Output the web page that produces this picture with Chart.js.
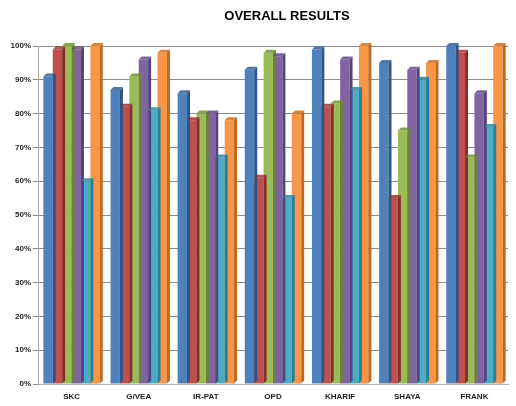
<!DOCTYPE html>
<html>
<head>
<meta charset="utf-8">
<script src="https://cdn.jsdelivr.net/npm/chart.js@4"></script>
<style>
  html, body { margin: 0; padding: 0; background: #fff; }
  #wrap { width: 516px; height: 406px; }
</style>
</head>
<body>
<div id="wrap"><canvas id="resultsChart"></canvas></div>
<script>
// Overall results - grouped columns, Excel style
const categories = ['SKC', 'G/VEA', 'IR-PAT', 'OPD', 'KHARIF', 'SHAYA', 'FRANK'];
const series1 = [91, 87, 86, 93, 99, 95, 100];
const series2 = [99, 82, 78, 61, 82, 55, 98];
const series3 = [100, 91, 80, 98, 83, 75, 67];
const series4 = [99, 96, 80, 97, 96, 93, 86];
const series5 = [60, 81, 67, 55, 87, 90, 76];
const series6 = [100, 98, 78, 80, 100, 95, 100];
const yTicks = [0, 10, 20, 30, 40, 50, 60, 70, 80, 90, 100];

const colors = ['#4F81BD', '#C0504D', '#9BBB59', '#8064A2', '#4BACC6', '#F79646'];
const sideColors = ['#2E5584', '#8A2E2C', '#6A8634', '#57437A', '#2A7F96', '#C0691E'];
const allSeries = [series1, series2, series3, series4, series5, series6];

// fake 3D: side and top faces for every bar
const bar3d = {
    id: 'bar3d',
    afterDatasetsDraw(chart) {
        const ctx = chart.ctx;
        const d = 3;
        chart.data.datasets.forEach((ds, i) => {
            chart.getDatasetMeta(i).data.forEach(bar => {
                const left = bar.x - bar.width / 2;
                const right = bar.x + bar.width / 2;
                ctx.save();
                ctx.fillStyle = sideColors[i];
                ctx.beginPath();
                ctx.moveTo(right, bar.y);
                ctx.lineTo(right + d, bar.y - d);
                ctx.lineTo(right + d, bar.base - d);
                ctx.lineTo(right, bar.base);
                ctx.closePath();
                ctx.fill();
                ctx.globalAlpha = 0.8;
                ctx.beginPath();
                ctx.moveTo(left, bar.y);
                ctx.lineTo(left + d, bar.y - d);
                ctx.lineTo(right + d, bar.y - d);
                ctx.lineTo(right, bar.y);
                ctx.closePath();
                ctx.fill();
                ctx.restore();
            });
        });
    }
};

const titlePlugin = {
    id: 'offsetTitle',
    afterDraw(chart) {
        const ctx = chart.ctx;
        ctx.save();
        ctx.font = 'bold 13px "Liberation Sans Narrow", "Liberation Sans", Arial, sans-serif';
        ctx.fillStyle = '#000';
        ctx.textAlign = 'center';
        ctx.textBaseline = 'middle';
        ctx.fillText('OVERALL RESULTS', 287, 16);
        ctx.restore();
    }
};

new Chart(document.getElementById('resultsChart'), {
    type: 'bar',
    data: {
        labels: categories,
        datasets: allSeries.map((values, i) => ({
            label: 'Series ' + (i + 1),
            data: values,
            backgroundColor: colors[i],
            borderWidth: 0,
            categoryPercentage: 0.84,
            barPercentage: 1.0
        }))
    },
    options: {
        responsive: true,
        maintainAspectRatio: false,
        animation: false,
        layout: {
            padding: { top: 46, right: 8, bottom: 0, left: 2 }
        },
        plugins: {
            legend: { display: false },
            title: { display: false },
            tooltip: { enabled: false }
        },
        scales: {
            y: {
                min: 0,
                max: 100,
                afterBuildTicks(axis) {
                    axis.ticks = yTicks.map(v => ({ value: v }));
                },
                afterFit(axis) {
                    axis.width = 36;
                },
                grid: {
                    color: '#8c8c8c',
                    lineWidth: 1,
                    tickLength: 5
                },
                border: { color: '#b0b0b0' },
                ticks: {
                    callback: v => v + '%',
                    font: { family: '"Liberation Sans Narrow", "Liberation Sans", Arial', size: 8, weight: 'bold' },
                    color: '#222',
                    padding: 2
                }
            },
            x: {
                afterFit(axis) {
                    axis.height = 22;
                },
                grid: { display: false, drawTicks: false },
                border: { color: '#b0b0b0' },
                ticks: {
                    font: { family: '"Liberation Sans Narrow", "Liberation Sans", Arial', size: 8, weight: 'bold' },
                    color: '#222',
                    padding: 8
                }
            }
        }
    },
    plugins: [bar3d, titlePlugin]
});
</script>
</body>
</html>
